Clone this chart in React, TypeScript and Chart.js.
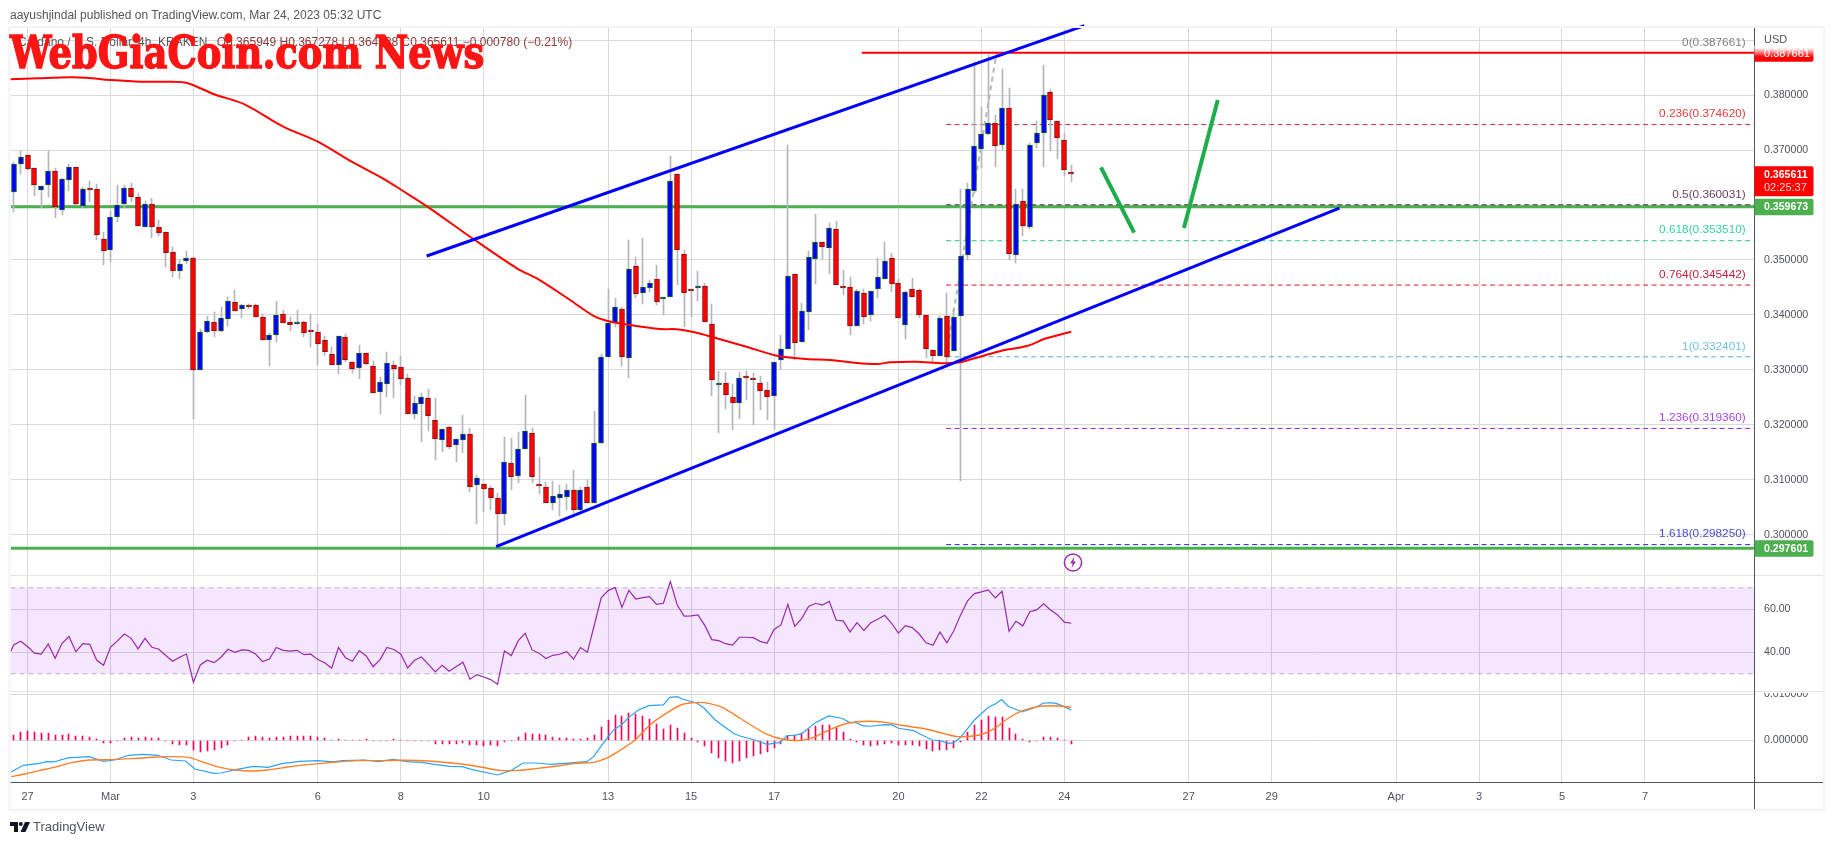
import React, { useEffect, useRef } from "react";
import { Chart, registerables } from "chart.js";

Chart.register(...registerables);

const opens = [.36231,.3674,.36903,.36667,.36267,.36358,.36613,.35904,.36449,.36685,
.35988,.36303,.36285,.35376,.35176,.35776,.36013,.36303,.3614,.35594,
.36013,.35594,.35504,.3514,.34795,.34976,.35031,.32994,.33697,.33866,
.33715,.33933,.3423,.34115,.34175,.34175,.33957,.33551,.33642,.34012,
.33866,.33842,.33866,.33703,.33685,.33539,.33285,.33097,.33594,.33139,
.33042,.33303,.33066,.32606,.32739,.33085,.33048,.32848,.32206,.32388,
.32485,.32085,.31733,.31957,.31642,.31733,.3183,.30915,.30921,.30848,
.30667,.30388,.31303,.31079,.3157,.31848,.30927,.30867,.30588,.30679,
.30697,.30812,.30461,.30867,.30588,.31667,.3323,.33848,.34104,.33213,
.34885,.34395,.34498,.34649,.34286,.34322,.36558,.35104,.34467,.34486,
.34522,.33831,.32734,.32758,.32504,.32395,.32867,.32837,.32758,.32631,
.32522,.33177,.33376,.3474,.33504,.34049,.35013,.35322,.35213,.35558,
.34522,.34504,.33795,.34395,.33995,.34467,.34649,.35031,.34576,.33813,
.34467,.34449,.33995,.33358,.33249,.33976,.3334,.33976,.35085,.36249,
.37012,.37285,.37485,.37085,.37758,.35085,.36067,.35594,.37121,.37303,
.38049,.37521,.37176,.365949];

const closes = [.3674,.36867,.36649,.36358,.3634,.36613,.3597,.36467,.36685,.36013,
.36285,.36267,.35449,.35158,.35776,.35994,.36303,.3614,.35613,.36013,
.35594,.35485,.35122,.34795,.34922,.35031,.33006,.33685,.33885,.33715,
.33939,.34248,.34078,.34175,.34151,.33969,.33539,.3363,.33994,.3386,
.33824,.33866,.33679,.33691,.33479,.33333,.33097,.33612,.33188,.33024,
.33303,.33115,.32588,.32776,.33121,.33024,.32842,.32206,.32394,.32503,
.3217,.31751,.31921,.31606,.31739,.3183,.30879,.3103,.30842,.30667,
.30388,.31321,.31061,.31558,.31885,.31061,.30897,.30588,.30703,.30739,
.30812,.30461,.30812,.30588,.31667,.3323,.33848,.34139,.33243,.34831,
.34376,.34504,.34576,.34231,.34322,.36431,.35176,.34395,.34443,.34528,
.33867,.32813,.32758,.3254,.32395,.32849,.32849,.32813,.32613,.32504,
.3314,.33376,.34704,.33486,.34067,.35049,.35322,.35231,.35576,.3454,
.34486,.33795,.34431,.33958,.34431,.34686,.34976,.34558,.3394,.34413,
.34322,.33995,.33376,.33249,.3394,.33231,.33958,.35067,.36285,.37067,
.37285,.37485,.37067,.37758,.35103,.36012,.35612,.37085,.37303,.37994,
.37539,.37212,.3663,.365611];

const highs = [.36776,.36982,.36903,.36667,.3634,.36982,.36667,.36485,.3674,.36685,
.36322,.36431,.36376,.35504,.35885,.36358,.36358,.36394,.36213,.36067,
.36122,.35722,.35504,.35231,.34994,.35158,.3506,.33739,.33982,.34054,
.34145,.34327,.34454,.34194,.34194,.34194,.34012,.33672,.34254,.34091,
.33957,.34091,.33885,.34018,.3383,.33612,.33412,.33612,.33648,.33139,
.33448,.33303,.33157,.32879,.33321,.33157,.33248,.32921,.32521,.32576,
.32648,.32491,.31921,.31982,.31739,.32176,.31939,.31085,.30921,.30891,
.30758,.31776,.31757,.31867,.32539,.31939,.31412,.30964,.30976,.30903,
.30921,.31176,.30867,.30994,.32254,.33285,.34472,.34303,.3414,.35358,
.35061,.35394,.34637,.34904,.34322,.36885,.36558,.35176,.34467,.34795,
.34576,.34195,.32983,.32958,.3274,.32958,.32983,.3294,.32886,.32777,
.3314,.33631,.37091,.3474,.34213,.35158,.35831,.35322,.35667,.35703,
.34813,.34686,.34467,.34467,.34431,.35031,.35322,.35122,.34649,.34431,
.34667,.34467,.33995,.33358,.33982,.34395,.3411,.36285,.36394,.38594,
.37788,.38727,.37636,.38467,.38121,.36285,.36285,.37121,.37521,.38539,
.38103,.37521,.37303,.367278];

const lows = [.35879,.3657,.36631,.3617,.35952,.36152,.3577,.35825,.36261,.35994,
.35952,.36061,.3537,.34904,.34958,.35697,.35952,.36049,.35613,.35594,
.35394,.35431,.34867,.34686,.34649,.34922,.32103,.32994,.33679,.33606,
.33697,.33806,.34078,.33951,.34115,.33969,.33539,.33079,.33515,.3386,
.33715,.33824,.33606,.33424,.33097,.3326,.33097,.32933,.33151,.32951,
.32842,.33085,.32576,.32206,.32503,.32497,.32721,.32194,.32115,.31697,
.31897,.31364,.31515,.3157,.31333,.31497,.30788,.30206,.30424,.30455,
.2978,.30188,.30824,.30952,.3157,.30952,.30752,.30588,.30461,.30346,
.30461,.304,.30461,.30588,.30588,.31648,.3323,.33788,.3308,.32849,
.34304,.34195,.34413,.34176,.33995,.34322,.3454,.33776,.3397,.34261,
.33867,.32534,.31849,.32286,.3191,.32116,.32455,.32007,.32268,.32092,
.31922,.33013,.33376,.33183,.33504,.33728,.34558,.35013,.3474,.3454,
.34358,.33631,.33795,.33831,.33886,.34304,.34649,.34413,.3394,.3357,
.34322,.3394,.33213,.33146,.33249,.33049,.3334,.3099,.35,.36212,
.36667,.37267,.36697,.37,.34995,.3494,.35443,.35558,.3703,.36697,
.36988,.3683,.36527,.36414];

const maBars = [-0.5,3.6,8,10.5,14.1,18.5,22.4,25.1,29,33.4,39,44,48.9,53.4,56.1,60,66.7,72.8,76.1,80.5,83.9,85.8,89.2,93.5,95.9,98.8,101.2,106,110.4,114.7,118.1,122,124.9,126.8,130.6,134.5,136.9,139.8,142.9,146.6,149.4,153];
const maValues = [.38285,.38304,.38322,.38315,.38273,.38242,.38242,.38218,.38013,.37831,.37424,.37151,.36787,.36485,.36273,.35958,.35364,.34849,.34636,.34273,.33982,.33896,.33818,.33745,.3374,.33678,.33595,.33424,.3326,.332,.33182,.33127,.33109,.3314,.33151,.33122,.3314,.33242,.33351,.33436,.33576,.33696];

const rsiLead = 40.3;
const rsiValues = [43.4,45.1,42.7,39.6,39.2,43.9,37.2,44.2,47.3,40.3,44,43.7,36.4,34,42.3,45.3,48.5,46.5,41.6,46.5,42.3,41.4,38.5,35.8,37.7,39.2,26.1,34.1,36.3,35.2,37.7,41.4,40,41.1,40.9,39.2,35.7,36.9,42.2,40.9,40.5,40.9,38.9,39.1,36.6,35.1,32.6,42.3,37.5,35.8,40.8,38.3,33.3,36.6,42.3,41.3,39.2,32.7,36.3,37.8,34.4,30.9,34,31.2,33.3,35.4,27.5,29.6,28.5,27.3,25.1,40.6,38.5,45.4,48.8,41.1,39.6,37.1,38.6,
39.1,40.3,36.9,42.2,40,52.7,65.3,68.7,70.2,60.9,68.8,64.8,65.4,65.9,62.3,62.8,72.9,62,56.8,56.9,57.4,52.4,45.9,45.4,44,43.3,47,47,46.8,45.1,44.2,50.6,52.7,62.3,52.1,55.7,61.3,62.8,62,63.7,54.9,54.6,49.5,53.8,50.2,53.7,55.4,57.2,53.5,48.9,52.4,51.5,48.5,44.4,43.3,49.5,44.4,49.9,57.4,63.9,67.3,68.1,69,65.3,68.4,49.8,54.4,52.3,58.9,59.7,62.6,59.7,57.5,54,53.5];

const histValues = [.00116,.00181,.00203,.00181,.0016,.0016,.00116,.00116,.00138,.00094,.00094,.00073,.00029,-.00051,-.00051,-.00015,.00058,.00065,.00044,.00065,.00051,.00044,-.00007,-.00073,-.00094,-.00094,-.0021,-.00247,-.00225,-.0021,-.0016,-.00094,-.00022,.00015,.0008,.00094,.00073,.00058,.00073,.0008,.00094,.00094,.00094,.00094,.00065,.00051,.00007,.00022,.00015,.00007,.00015,.00022,-.00022,-.00015,-.00007,.00029,.00015,-.00022,-.00022,-.00022,-.00022,-.00073,-.00073,-.00087,-.00073,-.00051,-.00094,-.00109,-.00116,-.00109,-.00131,-.00044,-.00007,.00065,.0016,.00145,.00145,.00109,.00073,
.00051,.00051,.00029,.00029,.00051,.00123,.00297,.0045,.00558,.00529,.00595,.00573,.00537,.00471,.00363,.00254,.00341,.00276,.00152,.00051,-.00029,-.00116,-.00276,-.00384,-.0045,-.00486,-.0045,-.00384,-.00341,-.0029,-.00254,-.0016,-.00073,.00102,.00109,.0016,.00239,.00305,.00326,.00341,.00268,.00174,.00036,-.00029,-.00102,-.00116,-.00094,-.0008,-.00058,-.00102,-.00102,-.00102,-.00116,-.00189,-.00225,-.00203,-.00203,-.0016,-.00029,.00174,.00341,.0045,.00537,.00515,.00515,.00276,.00145,.00022,-.00029,-.00007,.0008,.0008,.00058,.00015,-.00073];

const macdBars = [-0.4,1.4,3.7,4.7,5.8,7.8,10.9,13,14.6,16.6,18.7,20.8,22.8,24.9,26.2,29,30,32.1,34.7,36.8,38.8,41.4,44,46.1,47.6,50.7,52.8,54.9,56.9,59,61.1,63.1,64.9,66.2,70,71.9,73.7,75.5,77.1,77.7,79.8,82.9,83.9,86,87,87.9,89.1,90.4,91.9,94,94.9,96,96.8,98.9,99.9,101.5,104.1,105.1,107.2,109,110.9,111.9,113,114,116,117.9,119.8,121,121.9,122.9,124,126,127.1,128,130.2,130.9,132.9,133.9,135.1,136,137,139,141,142,142.9,143.9,145.9,148,148.9,150,150.9,152,153];
const macdValues = [-.00689,-.00544,-.005,-.00464,-.00471,-.00384,-.00355,-.00457,-.00428,-.00326,-.00305,-.00326,-.00428,-.0045,-.00624,-.00718,-.00711,-.00638,-.00566,-.00587,-.00508,-.00457,-.00442,-.00471,-.00442,-.00428,-.00464,-.00413,-.00464,-.00479,-.00529,-.00566,-.00573,-.00631,-.00754,-.0066,-.00493,-.00493,-.00515,-.00522,-.005,-.00464,-.00355,.0008,.00254,.00334,.00515,.0066,.00754,.00769,.00935,.0095,.00892,.00805,.00696,.00442,.00152,.00094,.00007,-.00087,-.00044,.00102,.00109,.00145,.00384,.00529,.00479,.00384,.00384,.00312,.00305,.00341,.00334,.00261,.0021,.00152,.00007,0,-.00065,-.00058,.00065,.00442,.00718,.0079,.00885,.0074,.00616,.00725,.00805,.00819,.00798,.00732,.0066];

const signalBars = [-0.4,1.6,3.7,6.3,8.4,10.9,14,17.1,20.2,22.3,25.4,27.5,30,32.1,34.2,36.8,39.4,42.5,46.1,49.7,52.8,56.4,60,64.7,67.8,70.4,73,75.5,78.7,81.3,83.9,86,88,89.9,92.2,94.8,96.8,98.4,99.9,102.5,105.1,108.7,111.3,113.9,116,118,120.6,123.7,126.3,128.4,132,134.6,136.6,139.7,141.8,143.9,145.9,148.5,151.1,153];
const signalValues = [-.0079,-.00732,-.0066,-.00573,-.00486,-.00428,-.00421,-.00399,-.0037,-.00355,-.00377,-.00479,-.00595,-.00645,-.00667,-.00645,-.00587,-.00529,-.00479,-.00442,-.00442,-.00435,-.0045,-.00515,-.00587,-.00653,-.00653,-.00616,-.00558,-.005,-.00479,-.0037,-.00189,.00007,.00355,.00624,.00783,.00819,.00819,.00718,.00479,.00152,.00022,0,.0008,.00225,.0037,.00413,.00384,.00326,.00247,.00145,.0008,.00116,.00247,.00479,.00638,.0074,.00747,.00718];

const dayTicks = [2,14,26,44,56,68,86,98,110,128,140,152,170,182,200,212,224,236];
const dayLabels = ["27","Mar","3","6","8","10","13","15","17","20","22","24","27","29","Apr","3","5","7"];
const priceTicks = [.39,.38,.37,.36,.35,.34,.33,.32,.31,.3];
const rsiTicks = [60,40];
const macdTicks = [.01,0];

const xMin = -0.46;
const xMax = 251.85;

const fibLevels = ["0.236","0.5","0.618","0.764","1","1.236","1.618"];
const fibPrices = [.37462,.360031,.35351,.345442,.332401,.31936,.29825];
const fibColors = ["#c5302f","#3d1f2e","#2ac79a","#e0152f","#56a9d8","#9a27d6","#2525cf"];
const fibLabelColors = ["#d9403f","#6b3f5c","#38d19f","#c41f3c","#74c0e6","#a845dc","#4a4ad0"];
const fibStartBar = 134.9;

const resistance = .387661;
const resistanceStartBar = 122.7;
const supportHigh = .359673;
const supportLow = .297601;
const lastPrice = .365611;

const upperChannelBars = [59.75,154.9];
const upperChannelPrices = [.35073,.3926];
const lowerChannelBars = [69.8,191.8];
const lowerChannelPrices = [.29787,.35945];
const fibLinkBars = [134.9,142.2];
const fibLinkPrices = [.332401,.387661];
const arrowDownBars = [157.3,162.1];
const arrowDownPrices = [.36685,.35496];
const arrowUpBars = [169.3,174.2];
const arrowUpPrices = [.35582,.37909];

const FONT = "'Liberation Sans', sans-serif";
const GRID = "#d9d9d9";
const AXIS_TEXT = "#50535e";

const pts = (xs: number[], ys: number[]) => xs.map((x, k) => ({ x, y: ys[k] }));

const line = (xs: number[], ys: number[], color: string, width: number, order: number, extra: any = {}) => ({
  type: "line",
  data: pts(xs, ys),
  yAxisID: "y",
  borderColor: color,
  borderWidth: width,
  pointRadius: 0,
  tension: 0,
  order,
  ...extra,
});

const fmt = (v: number) => v.toFixed(6);

// Snap the bars the scales placed onto whole device pixels, as the source chart does.
const snapBars = {
  id: "snapBars",
  afterDatasetsUpdate(chart: any) {
    chart.data.datasets.forEach((ds: any, idx: number) => {
      if (ds.type !== "bar") return;
      chart.getDatasetMeta(idx).data.forEach((el: any) => {
        el.x = ds.barThickness === 5 ? Math.round(el.x) : Math.round(el.x - 0.5) + 0.5;
        el.y = Math.round(el.y);
        el.base = Math.round(el.base);
      });
    });
  },
};

const overlay = {
  id: "overlay",
  afterDraw(chart: any) {
    const { ctx, scales } = chart;
    const y = scales.y;
    ctx.save();

    // frame and panel separators
    ctx.fillStyle = "#ffffff";
    ctx.fillRect(1755, 685, 66, 8);
    ctx.strokeStyle = "#f0f3fa";
    ctx.lineWidth = 2;
    ctx.strokeRect(9.5, 27, 1814.5, 783);
    ctx.strokeStyle = "#e0e3eb";
    ctx.lineWidth = 1;
    [575.5, 691.5].forEach((py) => {
      ctx.beginPath();
      ctx.moveTo(10.5, py);
      ctx.lineTo(1823, py);
      ctx.stroke();
    });
    ctx.strokeStyle = "#50535e";
    ctx.beginPath();
    ctx.moveTo(10.5, 782.5);
    ctx.lineTo(1823, 782.5);
    ctx.moveTo(1754.5, 28);
    ctx.lineTo(1754.5, 809);
    ctx.stroke();

    // fib labels
    ctx.font = `11.8px ${FONT}`;
    ctx.textAlign = "right";
    ctx.textBaseline = "middle";
    ctx.fillStyle = "#7f7f7f";
    ctx.fillText(`0(${fmt(resistance)})`, 1745.7, y.getPixelForValue(resistance) - 10.5);
    fibLevels.forEach((lv, k) => {
      ctx.fillStyle = fibLabelColors[k];
      ctx.fillText(`${lv}(${fmt(fibPrices[k])})`, 1745.7, y.getPixelForValue(fibPrices[k]) - 10.5);
    });

    // USD
    ctx.font = `11px ${FONT}`;
    ctx.textAlign = "left";
    ctx.fillStyle = AXIS_TEXT;
    ctx.fillText("USD", 1764, 40);

    const tag = (top: number, h: number, fill: any) => {
      ctx.fillStyle = fill;
      ctx.beginPath();
      ctx.roundRect(1754.5, top, 59, h, [0, 2, 2, 0]);
      ctx.fill();
    };

    // resistance tag
    const ry = y.getPixelForValue(resistance);
    const grad = ctx.createLinearGradient(0, ry - 5, 0, ry + 4);
    grad.addColorStop(0, "#ffffff");
    grad.addColorStop(1, "#ff0000");
    tag(ry - 7, 16, grad);
    ctx.fillStyle = "#ffffff";
    ctx.fillText(fmt(resistance), 1764, ry + 1);

    // last price tag
    const ly = y.getPixelForValue(lastPrice);
    tag(ly - 8, 30, "#ff0000");
    ctx.fillStyle = "#ffffff";
    ctx.font = `bold 10.6px ${FONT}`;
    ctx.fillText(fmt(lastPrice), 1764, ly + 1);
    ctx.font = `11px ${FONT}`;
    ctx.fillStyle = "#ffd0d0";
    ctx.fillText("02:25:37", 1764, ly + 14);

    // support tags
    [supportHigh, supportLow].forEach((v) => {
      const py = y.getPixelForValue(v);
      tag(py - 8, 16.5, "#4caf50");
      ctx.fillStyle = "#ffffff";
      ctx.font = `bold 10.6px ${FONT}`;
      ctx.fillText(fmt(v), 1764, py + 0.5);
    });
    ctx.restore();
  },
};

export default function App() {
  const ref = useRef<HTMLCanvasElement | null>(null);

  useEffect(() => {
    const wickData = highs.map((h, i) => ({ x: i, y: [lows[i], h] }));
    const bodyData = opens.map((o, i) => ({ x: i, y: [Math.min(o, closes[i]), Math.max(o, closes[i])] }));
    const isUp = opens.map((o, i) => closes[i] >= o);

    const fibDatasets = fibPrices.map((p, k) =>
      line([fibStartBar, xMax], [p, p], fibColors[k], 1, 9, { borderDash: [5, 3.5] })
    );

    const chart = new Chart(ref.current as HTMLCanvasElement, {
      type: "bar",
      plugins: [snapBars, overlay],
      data: {
        datasets: [
          line([xMin, xMax], [supportHigh, supportHigh], "#4caf50", 3, 10),
          line([xMin, xMax], [supportLow, supportLow], "#4caf50", 3, 10),
          ...fibDatasets,
          line(fibLinkBars, fibLinkPrices, "#b8b8b8", 2, 8, { borderDash: [5, 4] }),
          {
            type: "bar",
            data: wickData,
            yAxisID: "y",
            grouped: false,
            barThickness: 1,
            backgroundColor: "#b4b6bd",
            borderWidth: 0,
            order: 7,
          },
          {
            type: "bar",
            data: bodyData,
            yAxisID: "y",
            grouped: false,
            barThickness: 5,
            minBarLength: 2,
            backgroundColor: isUp.map((u) => (u ? "#0000ff" : "#ff0000")),
            borderColor: isUp.map((u) => (u ? "#1b5e20" : "#7f1010")),
            borderWidth: 1,
            borderSkipped: false,
            order: 6,
          },
          line(maBars, maValues, "#ff0000", 2, 5, { tension: 0.3 }),
          line([resistanceStartBar, xMax], [resistance, resistance], "#ff0000", 2, 4),
          line(upperChannelBars, upperChannelPrices, "#0000ff", 3, 3, { clip: false }),
          line(lowerChannelBars, lowerChannelPrices, "#0000ff", 3, 3),
          line(arrowDownBars, arrowDownPrices, "#1fad4c", 4, 2),
          line(arrowUpBars, arrowUpPrices, "#1fad4c", 4, 2),
          // RSI panel
          {
            type: "line",
            data: pts([xMin, xMax], [70, 70]),
            yAxisID: "rsi",
            borderColor: "#bdb6c4",
            borderWidth: 1,
            borderDash: [5, 4],
            pointRadius: 0,
            fill: { value: 30 },
            backgroundColor: "rgba(156,39,240,0.115)",
            order: 9,
          },
          {
            type: "line",
            data: pts([xMin, xMax], [30, 30]),
            yAxisID: "rsi",
            borderColor: "#bdb6c4",
            borderWidth: 1,
            borderDash: [5, 4],
            pointRadius: 0,
            order: 9,
          },
          {
            type: "line",
            data: [{ x: xMin, y: rsiLead }, ...rsiValues.map((y, x) => ({ x, y }))],
            yAxisID: "rsi",
            borderColor: "#9c27b0",
            borderWidth: 1.2,
            pointRadius: 0,
            tension: 0,
            order: 5,
          },
          // MACD panel
          {
            type: "bar",
            data: histValues.map((y, x) => ({ x, y })),
            yAxisID: "macd",
            grouped: false,
            barThickness: 1,
            backgroundColor: "#f50057",
            borderWidth: 0,
            order: 7,
          },
          {
            type: "line",
            data: pts(macdBars, macdValues),
            yAxisID: "macd",
            borderColor: "#29a3f5",
            borderWidth: 1.2,
            pointRadius: 0,
            tension: 0,
            order: 5,
          },
          {
            type: "line",
            data: pts(signalBars, signalValues),
            yAxisID: "macd",
            borderColor: "#ff7f27",
            borderWidth: 1.4,
            pointRadius: 0,
            tension: 0.3,
            order: 4,
          },
        ] as any,
      },
      options: {
        animation: false,
        responsive: false,
        layout: { padding: { left: 10.5, top: 28, right: 11.5, bottom: 36 } },
        plugins: { legend: { display: false }, tooltip: { enabled: false }, title: { display: false } },
        scales: {
          x: {
            type: "linear",
            min: xMin,
            max: xMax,
            offset: false,
            grid: { color: GRID, drawTicks: false, offset: false },
            border: { display: false },
            afterBuildTicks: (s: any) => {
              s.ticks = dayTicks.map((value) => ({ value }));
            },
            afterFit: (s: any) => {
              s.height = 27;
            },
            ticks: {
              autoSkip: false,
              maxRotation: 0,
              padding: 8,
              color: AXIS_TEXT,
              font: { family: FONT, size: 11 },
              callback: (v: any) => dayLabels[dayTicks.indexOf(v)],
            },
          },
          y: {
            type: "linear",
            position: "right",
            stack: "panels",
            stackWeight: 547,
            min: 0.292727,
            max: 0.392182,
            grid: { color: GRID, drawTicks: false },
            border: { display: false },
            afterBuildTicks: (s: any) => {
              s.ticks = priceTicks.map((value) => ({ value }));
            },
            afterFit: (s: any) => {
              s.width = 68;
            },
            ticks: {
              autoSkip: false,
              padding: 9.5,
              color: AXIS_TEXT,
              font: { family: FONT, size: 10.6 },
              callback: (v: any) => (v > 0.385 ? "" : Number(v).toFixed(6)),
            },
          },
          rsi: {
            type: "linear",
            position: "right",
            stack: "panels",
            stackWeight: 117,
            min: 21.53,
            max: 75.95,
            grid: { color: GRID, drawTicks: false },
            border: { display: false },
            afterBuildTicks: (s: any) => {
              s.ticks = rsiTicks.map((value) => ({ value }));
            },
            afterFit: (s: any) => {
              s.width = 68;
            },
            ticks: {
              autoSkip: false,
              padding: 9.5,
              color: AXIS_TEXT,
              font: { family: FONT, size: 10.6 },
              callback: (v: any) => Number(v).toFixed(2),
            },
          },
          macd: {
            type: "linear",
            position: "right",
            stack: "panels",
            stackWeight: 90,
            min: -0.009065,
            max: 0.0105,
            grid: { color: GRID, drawTicks: false },
            border: { display: false },
            afterBuildTicks: (s: any) => {
              s.ticks = macdTicks.map((value) => ({ value }));
            },
            afterFit: (s: any) => {
              s.width = 68;
            },
            ticks: {
              autoSkip: false,
              padding: 9.5,
              color: AXIS_TEXT,
              font: { family: FONT, size: 10.6 },
              callback: (v: any) => Number(v).toFixed(6),
            },
          },
        } as any,
      },
    } as any);
    return () => chart.destroy();
  }, []);

  const abs = (left: number, top: number): React.CSSProperties => ({
    position: "absolute",
    left,
    top,
    whiteSpace: "nowrap",
  });

  return (
    <div style={{ position: "fixed", left: 0, top: 0, width: 1834, height: 845, background: "#fff", overflow: "hidden" }}>
      <canvas ref={ref} width={1834} height={845} style={{ display: "block", position: "absolute", left: 0, top: 0 }} />
      <div style={{ ...abs(10, 8), font: `12px ${FONT}`, color: "#555" }}>
        aayushjindal published on TradingView.com, Mar 24, 2023 05:32 UTC
      </div>
      <div style={{ ...abs(18, 35), font: `12px ${FONT}`, color: "#555" }}>
        Cardano / U.S. Dollar, 4h, KRAKEN{"  "}
        <span style={{ color: "#8a3a3a", marginLeft: 6 }}>O0.365949 H0.367278 L0.364138 C0.365611 −0.000780 (−0.21%)</span>
      </div>
      <div
        style={{
          ...abs(9.5, 25),
          font: `bold 44px 'DejaVu Serif', serif`,
          color: "#ff1414",
          WebkitTextStroke: "1.4px #ff1414",
          lineHeight: "56px",
          transformOrigin: "0 0",
          transform: "scaleX(0.84)",
        }}
      >
        WebGiaCoin.com News
      </div>
      <svg style={abs(1063, 552)} width={20} height={21} viewBox="0 0 20 21">
        <circle cx="10" cy="10.5" r="8.6" fill="#fff" stroke="#9c27b0" strokeWidth="1.5" />
        <path d="M11.2 5 L7 11.2 H9.6 L8.6 16 L13 9.6 H10.4 Z" fill="#9c27b0" />
      </svg>
      <svg style={abs(10, 822)} width={20} height={11} viewBox="0 0 20 11">
        <path d="M0 0 H8 V10 H4 V4 H0 Z" fill="#131722" />
        <circle cx="10.8" cy="2" r="2" fill="#131722" />
        <path d="M15 0 H20 L15.5 10 H10.5 Z" fill="#131722" />
      </svg>
      <div style={{ ...abs(33, 819), font: `13px ${FONT}`, color: "#50535e" }}>TradingView</div>
    </div>
  );
}
